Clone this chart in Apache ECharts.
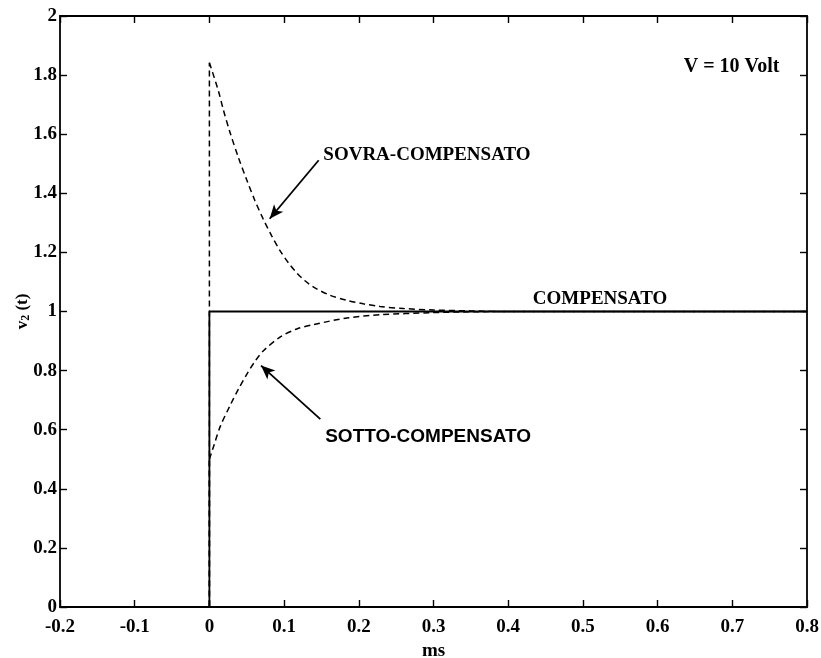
<!DOCTYPE html>
<html>
<head>
<meta charset="utf-8">
<script src="https://cdn.jsdelivr.net/npm/echarts@6/dist/echarts.min.js"></script>
<style>html,body{margin:0;padding:0;background:#fff}#c{width:821px;height:658px}</style>
</head>
<body>
<div id="c"></div>
<script>
// ---- data ----
var xTicks = [-0.2, -0.1, 0, 0.1, 0.2, 0.3, 0.4, 0.5, 0.6, 0.7, 0.8];
var yTicks = [0, 0.2, 0.4, 0.6, 0.8, 1, 1.2, 1.4, 1.6, 1.8, 2];

var compensatoX = [-0.2, 0, 0, 0.8];
var compensatoY = [0, 0, 1, 1];

// step part of the over/under-compensated responses (t <= 0)
var sovraStepX = [-0.2, 0, 0];
var sovraStepY = [0, 0, 1.842];
var sottoStepX = [-0.2, 0, 0];
var sottoStepY = [0, 0, 0.50];

var sovraX = [0.0, 0.012, 0.0186, 0.0276, 0.0387, 0.0499, 0.061, 0.0722, 0.0834, 0.0945, 0.1057, 0.1168, 0.128, 0.1391, 0.1614, 0.1838, 0.206, 0.2284, 0.26, 0.3, 0.35, 0.4, 0.8];
var sovraY = [1.842, 1.747, 1.683, 1.606, 1.522, 1.446, 1.375, 1.312, 1.256, 1.206, 1.165, 1.131, 1.104, 1.083, 1.055, 1.038, 1.026, 1.017, 1.010, 1.005, 1.002, 1.0, 1.0];

var sottoX = [0.0, 0.0058, 0.0147, 0.0281, 0.039, 0.0504, 0.0615, 0.0727, 0.095, 0.117, 0.14, 0.184, 0.229, 0.296, 0.35, 0.4, 0.8];
var sottoY = [0.50, 0.545, 0.612, 0.684, 0.738, 0.789, 0.833, 0.868, 0.914, 0.941, 0.956, 0.978, 0.989, 0.996, 0.999, 1.0, 1.0];

var annotations = [
  {text: 'SOVRA-COMPENSATO', x: 0.1525, y: 1.530, font: 'Liberation Serif', align: 'left', size: 19},
  {text: 'SOTTO-COMPENSATO', x: 0.155, y: 0.577, font: 'Liberation Sans', align: 'left', size: 19},
  {text: 'COMPENSATO', x: 0.523, y: 1.042, font: 'Liberation Serif', align: 'center', size: 19},
  {text: 'V = 10 Volt', x: 0.699, y: 1.827, font: 'Liberation Serif', align: 'center', size: 20}
];
var arrows = [
  {from: [0.1463, 1.512], to: [0.0807, 1.314]},
  {from: [0.1485, 0.636], to: [0.0691, 0.817]}
];

function pairs(xs, ys) { return xs.map(function (x, i) { return [x, ys[i]]; }); }

var ink = '#000';
var serif = 'Liberation Serif, Times New Roman, serif';

var axisCommon = {
  type: 'value',
  axisLine: {show: true, onZero: false, lineStyle: {color: ink, width: 1.8}},
  axisTick: {show: true, inside: true, length: 7, lineStyle: {color: ink, width: 1.4}},
  splitLine: {show: false}
};

function fmt(v) {
  var r = Math.round(v * 10) / 10;
  return String(r);
}

var dashStyle = {color: ink, width: 1.5, type: [6, 4]};

var chart = echarts.init(document.getElementById('c'), null, {renderer: 'canvas'});
var option = {
  backgroundColor: '#fff',
  animation: false,
  grid: {left: 60, right: 14, top: 16, bottom: 51, containLabel: false, outerBoundsMode: 'none'},
  xAxis: [
    Object.assign({}, axisCommon, {
      position: 'bottom', min: xTicks[0], max: xTicks[xTicks.length - 1], interval: 0.1,
      name: 'ms', nameLocation: 'middle', nameGap: 33,
      nameTextStyle: {fontFamily: serif, fontWeight: 'bold', fontSize: 19, color: ink},
      axisLabel: {show: true, margin: 11, fontFamily: serif, fontWeight: 'bold', fontSize: 19, color: ink, formatter: fmt}
    }),
    Object.assign({}, axisCommon, {
      position: 'top', min: xTicks[0], max: xTicks[xTicks.length - 1], interval: 0.1,
      axisLabel: {show: false}
    })
  ],
  yAxis: [
    Object.assign({}, axisCommon, {
      position: 'left', min: yTicks[0], max: yTicks[yTicks.length - 1], interval: 0.2,
      name: '{a|v}{b|2}{a| (t)}', nameLocation: 'middle', nameGap: 28, nameMoveOverlap: false,
      nameTextStyle: {
        color: ink,
        rich: {
          a: {fontFamily: serif, fontWeight: 'bold', fontSize: 17, color: ink},
          b: {fontFamily: serif, fontWeight: 'bold', fontSize: 12, color: ink, verticalAlign: 'bottom', padding: [6, 0, 0, 0]}
        }
      },
      axisLabel: {show: true, margin: 3, fontFamily: serif, fontWeight: 'bold', fontSize: 19, color: ink, formatter: fmt}
    }),
    Object.assign({}, axisCommon, {
      position: 'right', min: yTicks[0], max: yTicks[yTicks.length - 1], interval: 0.2,
      axisLabel: {show: false}
    })
  ],
  series: [
    {
      name: 'COMPENSATO', type: 'line', data: pairs(compensatoX, compensatoY),
      showSymbol: false, symbol: 'none', z: 3,
      lineStyle: {color: ink, width: 1.8, type: 'solid'}
    },
    {
      name: 'SOVRA step', type: 'line', data: pairs(sovraStepX, sovraStepY),
      showSymbol: false, symbol: 'none', z: 4, lineStyle: dashStyle
    },
    {
      name: 'SOTTO step', type: 'line', data: pairs(sottoStepX, sottoStepY),
      showSymbol: false, symbol: 'none', z: 4, lineStyle: dashStyle
    },
    {
      name: 'SOVRA-COMPENSATO', type: 'line', data: pairs(sovraX, sovraY),
      showSymbol: false, symbol: 'none', smooth: 0.3, z: 4, lineStyle: dashStyle
    },
    {
      name: 'SOTTO-COMPENSATO', type: 'line', data: pairs(sottoX, sottoY),
      showSymbol: false, symbol: 'none', smooth: 0.3, z: 4, lineStyle: dashStyle,
      markLine: {
        silent: true, symbol: ['none', 'arrow'], symbolSize: [9, 14],
        lineStyle: {color: ink, width: 1.8, type: 'solid'},
        label: {show: false},
        data: arrows.map(function (a) { return [{coord: a.from}, {coord: a.to}]; })
      }
    }
  ].concat(annotations.map(function (a) {
    return {
      type: 'scatter', symbolSize: 0, silent: true, z: 6,
      data: [[a.x, a.y]],
      itemStyle: {color: ink, opacity: 1},
      label: {
        show: true, formatter: a.text,
        position: a.align === 'left' ? 'right' : 'inside', distance: 0,
        fontFamily: a.font + ', sans-serif', fontWeight: 'bold', fontSize: a.size, color: ink,
        align: a.align, verticalAlign: 'middle'
      }
    };
  }))
};
chart.setOption(option);
</script>
</body>
</html>
